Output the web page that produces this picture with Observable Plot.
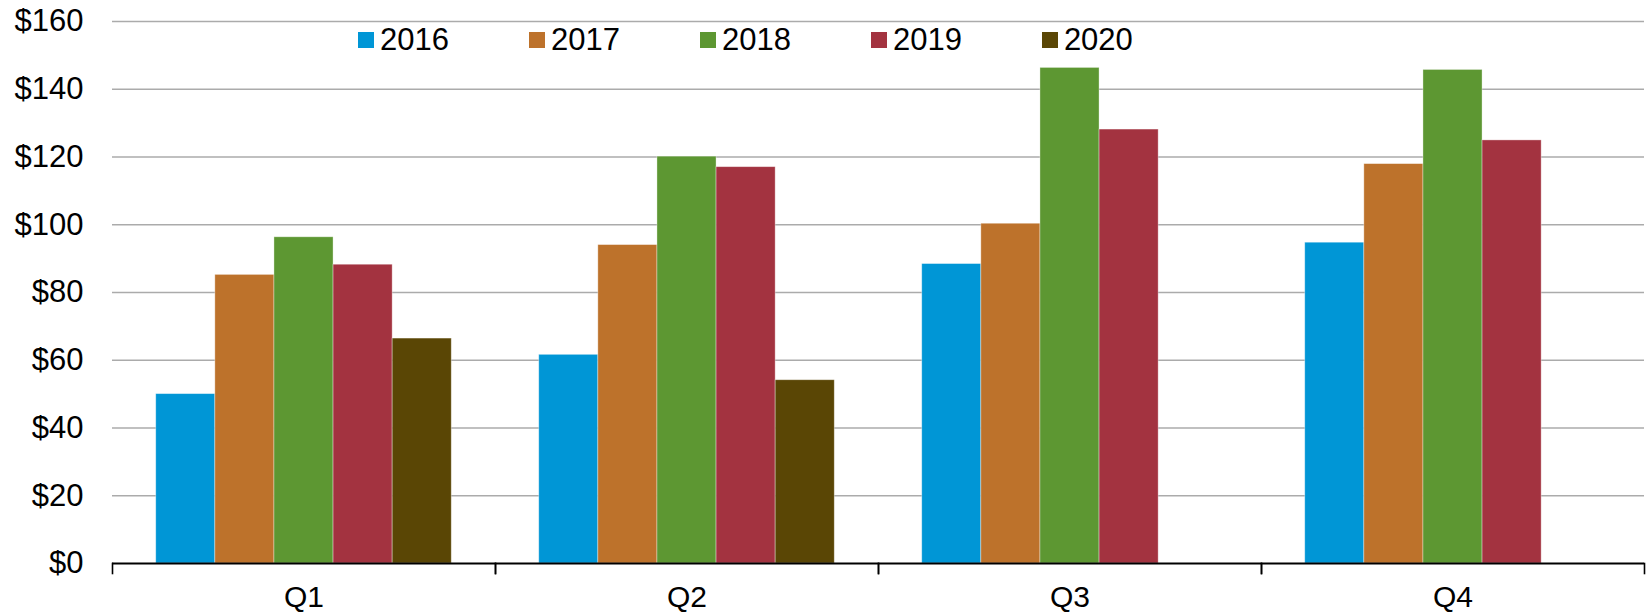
<!DOCTYPE html>
<html>
<head>
<meta charset="utf-8">
<script src="https://cdn.jsdelivr.net/npm/d3@7"></script>
<script src="https://cdn.jsdelivr.net/npm/@observablehq/plot@0.6"></script>
<style>
  html, body { margin: 0; padding: 0; background: #fff; }
  #wrap { position: relative; width: 1650px; height: 615px; font-family: "Liberation Sans", Arial, sans-serif; }
  #legend { position: absolute; left: 358px; top: 24px; display: flex; gap: 80px; font-size: 31px; line-height: 32px; color: #000; }
  .item { display: flex; align-items: center; }
  .sw { width: 16px; height: 16px; margin-right: 6px; }
</style>
</head>
<body>
<div id="wrap"><div id="legend"></div></div>
<script>
const quarters = ["Q1", "Q2", "Q3", "Q4"];
const years = ["2016", "2017", "2018", "2019", "2020"];
const colors = ["#0096D6", "#BD722B", "#5D9732", "#A33340", "#5A4605"];
const values2016 = [50.0, 61.6, 88.4, 94.7];
const values2017 = [85.2, 94.0, 100.3, 117.9];
const values2018 = [96.3, 120.1, 146.3, 145.7];
const values2019 = [88.2, 117.0, 128.1, 124.9];
const values2020 = [66.4, 54.1, null, null];
const yTicks = [0, 20, 40, 60, 80, 100, 120, 140, 160];

const series = [values2016, values2017, values2018, values2019, values2020];
const rows = [];
years.forEach((yr, i) => {
  quarters.forEach((q, j) => {
    const v = series[i][j];
    if (v != null) rows.push({quarter: q, year: yr, value: v});
  });
});

const chart = Plot.plot({
  width: 1650,
  height: 615,
  marginLeft: 111,
  marginRight: 5,
  marginTop: 21,
  marginBottom: 52,
  style: {fontFamily: "'Liberation Sans', Arial, sans-serif", background: "#fff", color: "#000"},
  fx: {domain: quarters, padding: 0, label: null},
  x: {domain: years, paddingInner: 0, paddingOuter: 0.74, round: false, axis: null},
  y: {domain: [0, 160], axis: null},
  color: {domain: years, range: colors},
  marks: [
    Plot.ruleY(yTicks.filter(d => d > 0), {stroke: "#ababab", strokeWidth: 1.6}),
    Plot.barY(rows, {fx: "quarter", x: "year", y: "value", fill: "year", stroke: "#ffffff", strokeOpacity: 0.45, strokeWidth: 0.8}),
    Plot.ruleY([0], {stroke: "#000", strokeWidth: 2}),
    Plot.frame({anchor: "left", stroke: "#000", strokeWidth: 1.6, insetTop: 542, insetBottom: -10}),
    Plot.frame({anchor: "right", stroke: "#000", strokeWidth: 1.6, insetTop: 542, insetBottom: -10}),
    Plot.axisY({ticks: yTicks, tickFormat: d => "$" + d, tickSize: 0, tickPadding: 29, fontSize: 31, label: null}),
    Plot.axisFx({anchor: "bottom", tickSize: 0, tickPadding: 22, fontSize: 30, label: null})
  ]
});

const wrap = document.getElementById("wrap");
wrap.insertBefore(chart, wrap.firstChild);

const legend = document.getElementById("legend");
years.forEach((yr, i) => {
  const it = document.createElement("div");
  it.className = "item";
  const sw = document.createElement("div");
  sw.className = "sw";
  sw.style.background = colors[i];
  const t = document.createElement("span");
  t.textContent = yr;
  it.appendChild(sw);
  it.appendChild(t);
  legend.appendChild(it);
});
</script>
</body>
</html>
